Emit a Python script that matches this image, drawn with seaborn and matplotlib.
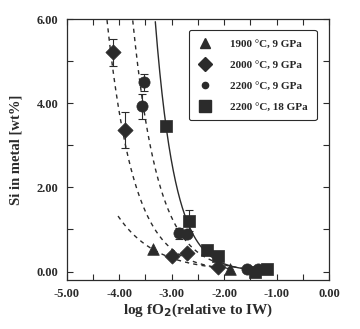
import numpy as np
import pandas as pd
import matplotlib
matplotlib.use("Agg")
import matplotlib.pyplot as plt
import seaborn as sns
from matplotlib.lines import Line2D

# ---- data ----
series_labels = ["1900 °C, 9 GPa", "2000 °C, 9 GPa", "2200 °C, 9 GPa", "2200 °C, 18 GPa"]

t1900_x = [-3.36, -1.89]
t1900_y = [0.53, 0.06]
t1900_err = [0.0, 0.0]

t2000_x = [-4.11, -3.89, -3.00, -2.70, -2.11]
t2000_y = [5.21, 3.36, 0.37, 0.45, 0.12]
t2000_err = [0.32, 0.42, 0.0, 0.0, 0.0]

t2200_x = [-3.53, -3.57, -2.86, -2.71, -1.57, -1.35]
t2200_y = [4.50, 3.93, 0.91, 0.89, 0.06, 0.05]
t2200_err = [0.20, 0.30, 0.13, 0.0, 0.0, 0.0]

t2200hp_x = [-3.11, -2.67, -2.33, -2.11, -1.41, -1.18]
t2200hp_y = [3.46, 1.21, 0.51, 0.36, 0.00, 0.06]
t2200hp_err = [0.0, 0.25, 0.0, 0.0, 0.0, 0.0]

# fitted curves: y = y_ref * 10**(-slope * (x - x_ref)), drawn between x_start and x_end
fit_x_start = [-4.02, -4.23, -3.74, -3.31]
fit_x_end = [-1.89, -2.11, -1.35, -1.18]
fit_x_ref = [-3.36, -3.857, -3.457, -3.095]
fit_y_ref = [0.53, 2.88, 3.32, 3.36]
fit_slope = [0.60, 0.85, 0.90, 1.15]
fit_solid = [False, False, False, True]

x_ticks = [-5.0, -4.0, -3.0, -2.0, -1.0, 0.0]
y_ticks = [0.0, 2.0, 4.0, 6.0]

# ---- styling ----
sns.set_theme(style="ticks")
plt.rcParams["font.family"] = ["Liberation Serif", "DejaVu Serif"]
plt.rcParams["font.weight"] = "bold"
ink = "#2b2b2b"

fig = plt.figure(figsize=(3.60, 3.29), dpi=100)
ax = fig.add_axes([0.185, 0.149, 0.729, 0.793])

# curves
for xs, xe, xr, yr, k, solid in zip(fit_x_start, fit_x_end, fit_x_ref, fit_y_ref, fit_slope, fit_solid):
    xx = np.linspace(xs, xe, 200)
    yy = yr * 10 ** (-k * (xx - xr))
    cdf = pd.DataFrame({"x": xx, "y": yy})
    if solid:
        sns.lineplot(data=cdf, x="x", y="y", ax=ax, color=ink, lw=1.0, sort=False)
    else:
        sns.lineplot(data=cdf, x="x", y="y", ax=ax, color=ink, lw=1.0, sort=False,
                     dashes=False, linestyle=(0, (3, 3)))

markers = ["^", "D", "o", "s"]
sizes = [70, 60, 65, 75]
all_x = [t1900_x, t2000_x, t2200_x, t2200hp_x]
all_y = [t1900_y, t2000_y, t2200_y, t2200hp_y]
all_e = [t1900_err, t2000_err, t2200_err, t2200hp_err]

for lab, m, s, xs, ys, es in zip(series_labels, markers, sizes, all_x, all_y, all_e):
    xe = [x for x, e in zip(xs, es) if e > 0]
    ye = [y for y, e in zip(ys, es) if e > 0]
    ee = [e for e in es if e > 0]
    if ee:
        ax.errorbar(xe, ye, yerr=ee, fmt="none", ecolor=ink, elinewidth=0.8,
                    capsize=3, capthick=0.8, zorder=3)
    df = pd.DataFrame({"x": xs, "y": ys})
    sns.scatterplot(data=df, x="x", y="y", ax=ax, marker=m, s=s, color=ink,
                    edgecolor=ink, linewidth=0.5, zorder=4)

# legend proxies
leg_sizes = [7.5, 7.5, 4.5, 9]
handles = [Line2D([], [], ls="none", marker=m, ms=ms, color=ink, mec=ink)
           for m, ms in zip(markers, leg_sizes)]
leg = ax.legend(handles, series_labels, loc="upper right", bbox_to_anchor=(0.965, 0.97),
                frameon=True, fancybox=True, edgecolor=ink, framealpha=1,
                prop={"family": "Liberation Serif", "weight": "bold", "size": 8.0},
                handletextpad=1.6, borderpad=0.8, labelspacing=1.0, handlelength=1.3,
                borderaxespad=0.3)
leg.get_frame().set_linewidth(0.8)

ax.set_xlim(-5.0, 0.0)
ax.set_ylim(-0.2, 6.0)
ax.set_xticks(x_ticks)
ax.set_yticks(y_ticks)
ax.set_xticks(np.arange(-4.5, 0, 1.0), minor=True)
ax.set_yticks([1.0, 3.0, 5.0], minor=True)
ax.set_xticklabels([f"{v:.2f}" for v in x_ticks])
ax.set_yticklabels([f"{v:.2f}" for v in y_ticks])
ax.tick_params(which="both", direction="in", top=True, right=True, length=4,
               width=0.8, color=ink, labelsize=9, labelcolor=ink, pad=6)
for lbl in ax.get_xticklabels() + ax.get_yticklabels():
    lbl.set_fontweight("bold")
for sp in ax.spines.values():
    sp.set_color(ink)
    sp.set_linewidth(0.9)

ax.set_xlabel(r"log fO$_\mathbf{2}$(relative to IW)", fontsize=11, fontweight="bold",
              color=ink, labelpad=1)
ax.set_ylabel("Si in metal [wt%]", fontsize=10.5, fontweight="bold", color=ink, labelpad=10)

fig.savefig("out.png", dpi=100)
